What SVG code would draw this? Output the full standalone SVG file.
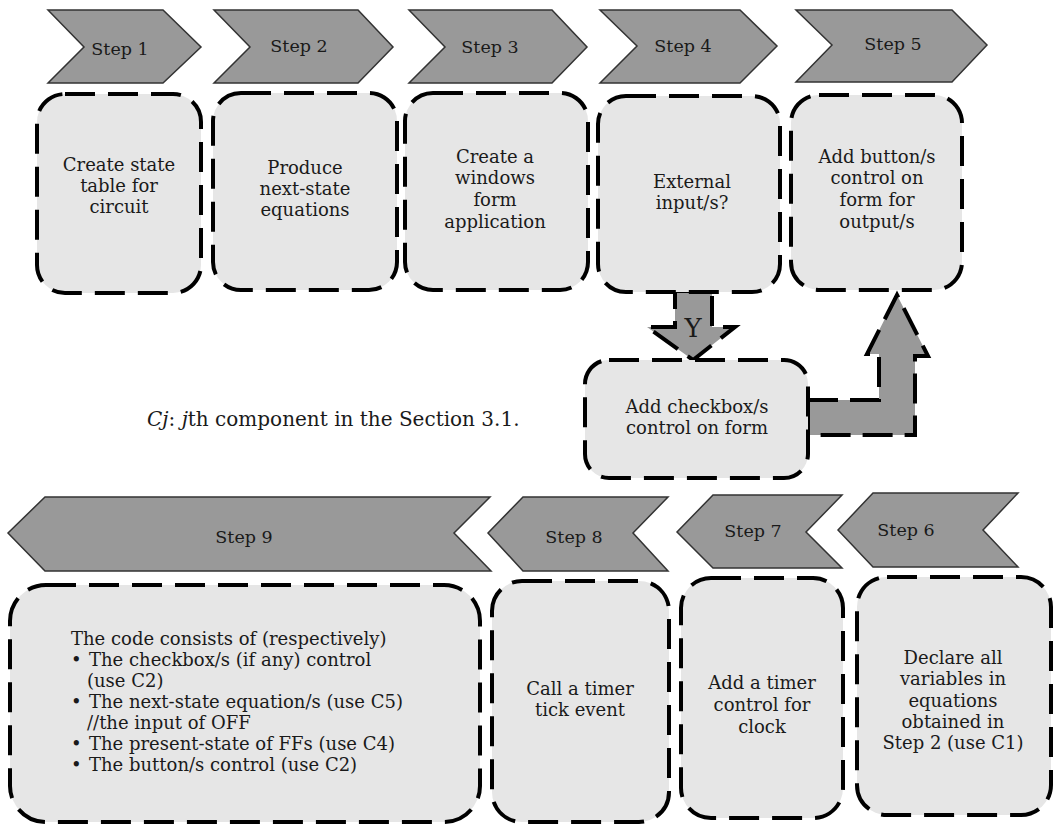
<svg xmlns="http://www.w3.org/2000/svg" width="1055" height="825" viewBox="0 0 1055 825">
<style>
.chev{fill:#999999;stroke:#333333;stroke-width:1.5;stroke-linejoin:miter}
.box{fill:#e6e6e6;stroke:#000000;stroke-width:4;stroke-dasharray:30 13}
.arr{fill:#999999;stroke:#000000;stroke-width:4;stroke-dasharray:30 12;stroke-linejoin:miter}
.lbl{font-family:"DejaVu Serif","Liberation Serif",serif;font-size:17.5px;fill:#1a1a1a;text-anchor:middle}
.txt{font-family:"DejaVu Serif","Liberation Serif",serif;font-size:18px;fill:#1a1a1a;text-anchor:middle}
.lt{font-family:"DejaVu Serif","Liberation Serif",serif;font-size:18px;fill:#1a1a1a}
</style>
<rect width="1055" height="825" fill="#ffffff"/>

<g id="connectors">
  <polygon class="arr" points="675,291 712,291 712,327 735,327 693,360 647,327 675,327"/>
  <text x="693" y="337" class="txt" style="font-size:26px">Y</text>
  <polygon class="arr" points="808,400 879,400 879,354 867,354 897,295 928,356 915,356 915,435 808,435"/>
</g>

<g id="step1">
  <polygon class="chev" points="48,10 163,10 201,47 163,83 48,83 84,47"/>
  <text x="120" y="55" class="lbl">Step 1</text>
  <rect class="box" x="37" y="94" width="164" height="199" rx="28"/>
  <text class="txt"><tspan x="119" y="171">Create state</tspan><tspan x="119" y="192">table for</tspan><tspan x="119" y="213">circuit</tspan></text>
</g>

<g id="step2">
  <polygon class="chev" points="214,10 358,10 393,47 358,83 214,83 250,47"/>
  <text x="299" y="52" class="lbl">Step 2</text>
  <rect class="box" x="213" y="93" width="184" height="197" rx="28"/>
  <text class="txt"><tspan x="305" y="174">Produce</tspan><tspan x="305" y="195">next-state</tspan><tspan x="305" y="216">equations</tspan></text>
</g>

<g id="step3">
  <polygon class="chev" points="409,10 552,10 587,47 552,83 409,83 445,47"/>
  <text x="490" y="53" class="lbl">Step 3</text>
  <rect class="box" x="405" y="93" width="183" height="197" rx="28"/>
  <text class="txt"><tspan x="495" y="163">Create a</tspan><tspan x="495" y="184">windows</tspan><tspan x="495" y="206">form</tspan><tspan x="495" y="228">application</tspan></text>
</g>

<g id="step4">
  <polygon class="chev" points="600,10 740,10 777,46 740,83 600,83 637,46"/>
  <text x="683" y="52" class="lbl">Step 4</text>
  <rect class="box" x="598" y="96" width="182" height="196" rx="28"/>
  <text class="txt"><tspan x="692" y="188">External</tspan><tspan x="692" y="209">input/s?</tspan></text>
</g>

<g id="step5">
  <polygon class="chev" points="796,10 952,10 987,45 952,82 796,82 832,45"/>
  <text x="893" y="50" class="lbl">Step 5</text>
  <rect class="box" x="791" y="95" width="171" height="195" rx="28"/>
  <text class="txt"><tspan x="877" y="163">Add button/s</tspan><tspan x="877" y="184">control on</tspan><tspan x="877" y="206">form for</tspan><tspan x="877" y="228">output/s</tspan></text>
</g>

<g id="checkbox">
  <rect class="box" x="585" y="360" width="223" height="118" rx="24"/>
  <text class="txt"><tspan x="697" y="413">Add checkbox/s</tspan><tspan x="697" y="434">control on form</tspan></text>
</g>

<g id="caption">
  <text x="147" y="426" class="lt" style="font-size:20px"><tspan font-style="italic">Cj</tspan>: <tspan font-style="italic">j</tspan>th component in the Section 3.1.</text>
</g>

<g id="step6">
  <polygon class="chev" points="873,493 1018,493 983,530 1018,567 873,567 838,530"/>
  <text x="906" y="536" class="lbl">Step 6</text>
  <rect class="box" x="857" y="577" width="194" height="238" rx="30"/>
  <text class="txt"><tspan x="953" y="664">Declare all</tspan><tspan x="953" y="685">variables in</tspan><tspan x="953" y="707">equations</tspan><tspan x="953" y="728">obtained in</tspan><tspan x="953" y="749">Step 2 (use C1)</tspan></text>
</g>

<g id="step7">
  <polygon class="chev" points="713,495 842,495 806,532 842,568 713,568 677,532"/>
  <text x="753" y="537" class="lbl">Step 7</text>
  <rect class="box" x="681" y="578" width="162" height="240" rx="30"/>
  <text class="txt"><tspan x="762" y="689">Add a timer</tspan><tspan x="762" y="711">control for</tspan><tspan x="762" y="733">clock</tspan></text>
</g>

<g id="step8">
  <polygon class="chev" points="523,497 668,497 633,533 668,571 523,571 488,533"/>
  <text x="574" y="543" class="lbl">Step 8</text>
  <rect class="box" x="492" y="581" width="177" height="241" rx="30"/>
  <text class="txt"><tspan x="580" y="695">Call a timer</tspan><tspan x="580" y="716">tick event</tspan></text>
</g>

<g id="step9">
  <polygon class="chev" points="45,497 490,497 454,533 491,571 45,571 8,533"/>
  <text x="244" y="543" class="lbl">Step 9</text>
  <rect class="box" x="10" y="585" width="470" height="237" rx="36"/>
  <text class="lt">
    <tspan x="71" y="645">The code consists of (respectively)</tspan>
    <tspan x="71" y="666">•</tspan><tspan x="89" y="666">The checkbox/s (if any) control</tspan>
    <tspan x="87" y="687">(use C2)</tspan>
    <tspan x="71" y="708">•</tspan><tspan x="89" y="708">The next-state equation/s (use C5)</tspan>
    <tspan x="87" y="729">//the input of OFF</tspan>
    <tspan x="71" y="750">•</tspan><tspan x="89" y="750">The present-state of FFs (use C4)</tspan>
    <tspan x="71" y="771">•</tspan><tspan x="89" y="771">The button/s control (use C2)</tspan>
  </text>
</g>
</svg>
